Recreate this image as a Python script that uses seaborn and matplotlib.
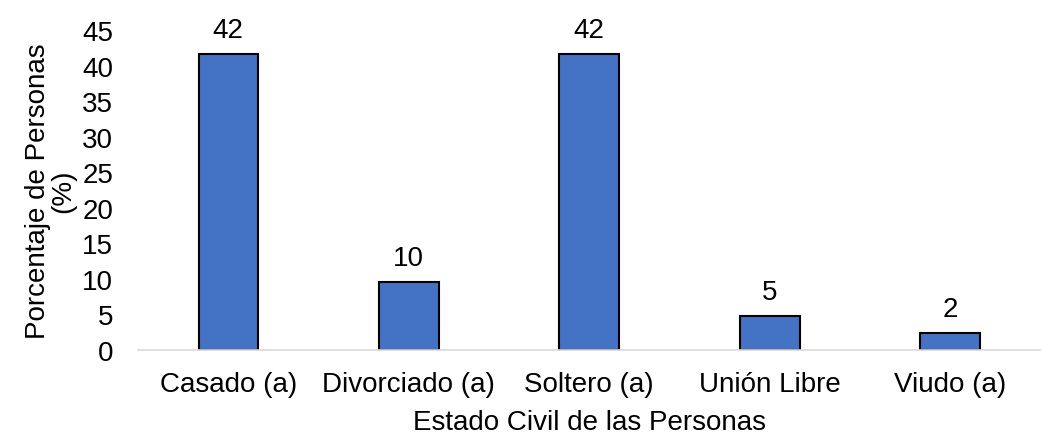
import pandas as pd
import seaborn as sns
import matplotlib.pyplot as plt

# datos
categorias = ['Casado (a)', 'Divorciado (a)', 'Soltero (a)', 'Unión Libre', 'Viudo (a)']
porcentajes = [41.67, 9.52, 41.67, 4.76, 2.38]

df = pd.DataFrame({'estado': categorias, 'pct': porcentajes})

sns.set_theme(style='white')
plt.rcParams['font.family'] = ['Liberation Sans', 'DejaVu Sans']

fig = plt.figure(figsize=(10.42, 4.39), dpi=100)
ax = fig.add_axes([0.1325, 0.2005, 0.866, 0.7285])

sns.barplot(data=df, x='estado', y='pct', color='#4472C4', saturation=1,
            edgecolor='black', linewidth=1.5, width=0.33, ax=ax)

for c in ax.containers:
    ax.bar_label(c, fmt='%.0f', padding=8, fontsize=20, color='black')

ax.set_ylim(0, 45)
ax.set_yticks(range(0, 46, 5))
ax.tick_params(axis='both', length=0, labelsize=20, colors='black')
ax.tick_params(axis='x', pad=15)
ax.tick_params(axis='y', pad=18)

for s in ['top', 'right', 'left']:
    ax.spines[s].set_visible(False)
ax.spines['bottom'].set_color('#D9D9D9')
ax.spines['bottom'].set_linewidth(1.2)

ax.set_xlabel('Estado Civil de las Personas', fontsize=20, color='black', labelpad=9)
ax.set_ylabel('Porcentaje de Personas\n(%)', fontsize=20, color='black',
              labelpad=4, linespacing=1.0)

plt.savefig('out.png', dpi=100)
